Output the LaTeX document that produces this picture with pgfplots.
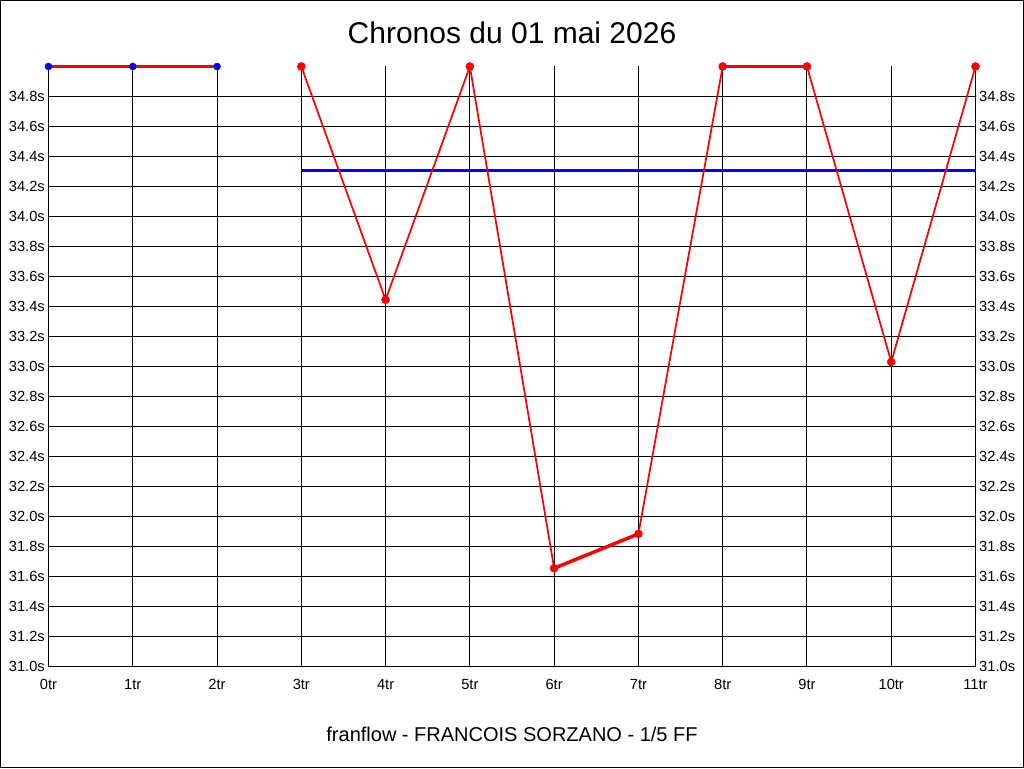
\documentclass[border=0pt]{standalone}
\usepackage{pgfplots}
\pgfplotsset{compat=1.18}
\usepackage{fontspec}
\setmainfont{Liberation Sans}
\begin{document}
\begin{tikzpicture}
\useasboundingbox (0,0) rectangle (768pt,576pt);
\draw[line width=0.75pt] (0.375pt,0.375pt) rectangle (767.625pt,575.625pt);
\node[anchor=base, inner sep=0pt, font=\fontsize{22.5}{25}\selectfont] at (384pt,543.4pt) {Chronos du 01 mai 2026};
\node[anchor=base, inner sep=0pt, font=\fontsize{15}{18}\selectfont] at (384pt,20.25pt) {franflow - FRANCOIS SORZANO - 1/5 FF};
\begin{axis}[
  at={(36.375pt,76.125pt)}, anchor=south west,
  scale only axis, width=695.25pt, height=450pt,
  xmin=0, xmax=11, ymin=31, ymax=35,
  xtick={0,1,2,3,4,5,6,7,8,9,10,11},
  xticklabels={0tr,1tr,2tr,3tr,4tr,5tr,6tr,7tr,8tr,9tr,10tr,11tr},
  ytick={31,31.2,31.4,31.6,31.8,32,32.2,32.4,32.6,32.8,33,33.2,33.4,33.6,33.8,34,34.2,34.4,34.6,34.8},
  yticklabels={31.0s,31.2s,31.4s,31.6s,31.8s,32.0s,32.2s,32.4s,32.6s,32.8s,33.0s,33.2s,33.4s,33.6s,33.8s,34.0s,34.2s,34.4s,34.6s,34.8s},
  grid=major, major grid style={black, line width=0.75pt},
  axis line style={draw=none},
  major tick length=0pt,
  tick label style={font=\fontsize{11}{13}\selectfont},
  yticklabel style={anchor=east, inner sep=0pt, xshift=-2.6pt},
  xticklabel style={anchor=base, inner sep=0pt, yshift=-17.25pt},
  clip=false,
]
\addplot[blue, line width=2.4pt] coordinates {(3,34.307) (11,34.307)};
\addplot[red, line width=1.3pt, line join=round] coordinates {(3,35) (4,33.445) (5,35) (6,31.655) (7,31.884) (8,35) (9,35) (10,33.03) (11,35)};
\addplot[red, line width=2.6pt] coordinates {(0,35) (1,35) (2,35)};
\addplot[red, line width=2.6pt] coordinates {(6,31.655) (7,31.884)};
\addplot[red, line width=2.6pt] coordinates {(8,35) (9,35)};
\addplot[only marks, mark=*, mark size=3pt, red, mark options={draw=red, fill=red}] coordinates {(3,35) (4,33.445) (5,35) (6,31.655) (7,31.884) (8,35) (9,35) (10,33.03) (11,35)};
\addplot[only marks, mark=*, mark size=2.6pt, blue, mark options={draw=blue, fill=blue}] coordinates {(0,35) (1,35) (2,35)};
\end{axis}
\begin{axis}[
  at={(36.375pt,76.125pt)}, anchor=south west,
  scale only axis, width=695.25pt, height=450pt,
  xmin=0, xmax=11, ymin=31, ymax=35,
  hide x axis,
  axis line style={draw=none},
  major tick length=0pt,
  yticklabel pos=right,
  ytick={31,31.2,31.4,31.6,31.8,32,32.2,32.4,32.6,32.8,33,33.2,33.4,33.6,33.8,34,34.2,34.4,34.6,34.8},
  yticklabels={31.0s,31.2s,31.4s,31.6s,31.8s,32.0s,32.2s,32.4s,32.6s,32.8s,33.0s,33.2s,33.4s,33.6s,33.8s,34.0s,34.2s,34.4s,34.6s,34.8s},
  tick label style={font=\fontsize{11}{13}\selectfont},
  yticklabel style={anchor=west, inner sep=0pt, xshift=2.6pt},
]
\addplot[draw=none] coordinates {(0,31) (11,35)};
\end{axis}
\end{tikzpicture}
\end{document}
